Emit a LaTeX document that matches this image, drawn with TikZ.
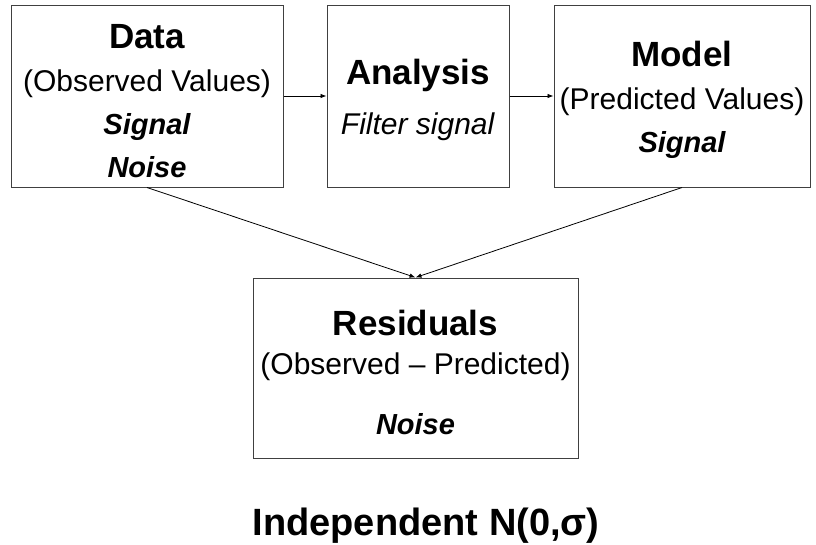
\documentclass[tikz,border=0pt]{standalone}
\usepackage{fontspec}
\setmainfont{Liberation Sans}
\usepackage{tikz}
\usetikzlibrary{arrows.meta, positioning}

\newcommand{\headtxt}[1]{{\fontsize{35}{43}\selectfont\bfseries\rule{0pt}{34pt}#1}}
\newcommand{\keytxt}[1]{{\fontsize{29}{43}\selectfont\bfseries\itshape #1}}

\begin{document}
\begin{tikzpicture}[x=1pt, y=-1pt,
  box/.style={rectangle, draw=black!75, line width=1pt, inner sep=0pt,
              minimum height=182pt, align=center,
              font=\fontsize{30}{43}\selectfont},
  arrow/.style={-{Latex[length=6pt, width=4.5pt]}, line width=0.8pt},
  title/.style={font=\fontsize{38}{46}\selectfont\bfseries, anchor=base},
]
  \useasboundingbox (0,0) rectangle (816,544);

  \node[box, minimum width=272pt] (data) at (147,96)
    {\headtxt{Data}\\(Observed Values)\\\keytxt{Signal}\\\keytxt{Noise}};
  \node[box, minimum width=182pt] (analysis) at (418,96)
    {\headtxt{Analysis}\\[7pt]\textit{Filter signal}};
  \node[box, minimum width=256pt] (model) at (682,96)
    {\headtxt{Model}\\(Predicted Values)\\\keytxt{Signal}};
  \node[box, minimum width=325pt, minimum height=180pt] (resid) at (415.5,368)
    {\headtxt{Residuals}\\[-4pt](Observed -- Predicted)\\[17pt]\keytxt{Noise}};

  \node[title] (indep) at (426,535) {Independent N(0,σ)};

  \draw[arrow] (data) -- (analysis);
  \draw[arrow] (analysis) -- (model);
  \draw[arrow] (data.south) -- (resid.north);
  \draw[arrow] (model.south) -- (resid.north);
\end{tikzpicture}
\end{document}
